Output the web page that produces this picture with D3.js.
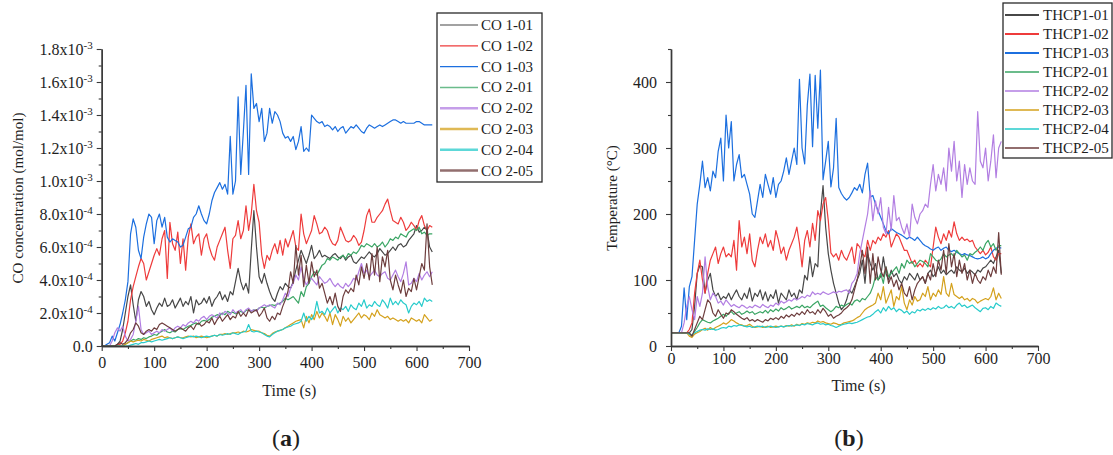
<!DOCTYPE html>
<html>
<head>
<meta charset="utf-8">
<script src="https://cdn.jsdelivr.net/npm/d3@7"></script>
<style>
  body { margin: 0; background: #fff; }
  svg { display: block; }
  text { font-family: "Liberation Serif", "Times New Roman", serif; fill: #1e1e1e; }
</style>
</head>
<body>
<svg id="fig" width="1113" height="455"></svg>
<script>
// sampling grid (s), every 5 s from 0 to 630
var time = d3.range(0, 631, 5);

// ---- (a) CO concentration, values in 1e-4 mol/mol ----
var coNames = ["CO 1-01", "CO 1-02", "CO 1-03", "CO 2-01", "CO 2-02", "CO 2-03", "CO 2-04", "CO 2-05"];
var co101 = [0,0,0,0,0,0,0.1,0.3,1.0,2.0,
  3.0,3.7,2.5,1.5,2.8,3.3,3.0,2.4,2.7,2.2,
  1.9,2.3,2.6,2.4,2.9,2.4,2.5,2.8,2.3,2.6,
  2.9,2.4,2.7,2.5,3.0,2.0,2.8,2.5,2.6,2.9,
  2.6,3.0,2.4,2.8,3.0,3.3,2.8,3.1,2.7,3.3,
  3.1,3.9,4.7,3.9,3.4,3.8,3.2,5.8,8.2,6.0,
  4.2,3.8,4.4,3.8,3.3,2.9,2.7,3.2,3.6,3.4,
  3.8,3.6,3.5,3.9,4.6,5.2,5.8,5.4,5.0,5.5,
  6.1,5.3,5.5,5.8,5.4,5.5,5.4,5.3,5.5,5.6,
  5.4,5.3,5.5,5.2,5.4,5.5,5.1,5.0,5.2,5.4,
  5.3,5.5,5.7,5.5,5.4,5.6,5.9,5.7,5.5,5.6,
  5.8,6.0,5.8,6.1,6.2,6.0,6.1,6.4,6.6,6.8,
  7.3,6.9,7.0,7.2,7.0,6.0,5.7];
var co102 = [0,0,0,0,0,0,0.05,0.1,0.3,0.8,
  1.5,2.8,3.6,4.2,4.8,5.3,5.0,4.0,4.5,5.0,
  5.5,5.9,5.5,6.5,7.0,4.1,7.5,6.2,5.8,6.9,
  5.0,6.5,4.6,6.6,7.4,6.2,6.6,6.8,5.5,6.5,
  6.8,6.0,5.5,5.2,6.0,6.4,6.8,7.2,5.8,4.7,
  6.5,6.7,7.6,6.5,7.0,8.5,7.0,8.0,9.8,8.2,
  7.5,5.5,4.7,5.5,5.2,5.8,6.2,5.6,6.4,5.5,
  6.5,6.0,6.5,7.0,6.0,5.8,8.0,6.8,6.2,6.6,
  7.0,7.9,7.4,6.8,6.9,7.2,7.0,6.5,6.2,6.1,
  6.4,7.2,6.8,6.4,6.3,6.4,6.7,6.5,6.1,6.3,
  7.0,7.9,8.3,7.5,7.5,7.8,8.0,8.2,8.6,8.9,
  8.2,7.6,7.5,7.4,7.8,7.5,7.0,7.2,7.5,7.3,
  7.0,7.6,7.9,7.3,7.0,7.3,7.2];
var co103 = [0,0,0.1,0.2,0.6,0.3,0.8,1.3,2.0,2.8,
  3.9,6.8,7.7,7.2,5.8,5.3,6.6,7.4,8.0,7.8,
  6.2,7.6,8.0,7.2,7.8,6.6,6.3,6.5,6.4,6.3,
  6.0,6.1,6.6,7.1,7.2,7.8,8.0,8.5,8.0,7.6,
  7.4,8.0,8.8,9.3,9.6,9.9,9.5,9.8,9.2,12.7,
  9.2,10.0,15.1,10.4,13.0,15.8,10.4,16.5,14.4,14.7,
  13.6,14.4,12.4,12.9,14.4,13.5,14.2,14.0,13.6,12.9,
  12.6,12.7,12.4,12.7,11.9,12.4,13.3,11.8,12.0,11.8,
  14.0,13.8,13.6,13.5,13.6,13.3,13.4,13.3,13.1,13.3,
  13.0,13.2,13.3,12.9,13.1,13.3,13.2,13.4,13.2,13.0,
  12.9,13.2,13.4,13.3,13.2,13.3,13.4,13.3,13.4,13.5,
  13.6,13.7,13.7,13.6,13.5,13.6,13.5,13.5,13.5,13.5,
  13.6,13.6,13.5,13.4,13.4,13.4,13.4];
var co201 = [0,0,0,0,0,0,0,0,0,0.1,
  0.2,0.3,0.4,0.35,0.45,0.4,0.5,0.45,0.55,0.6,
  0.7,0.65,0.8,0.9,1.0,0.85,0.8,0.9,0.85,1.0,
  1.05,1.0,1.1,1.2,1.25,1.35,1.4,1.3,1.5,1.55,
  1.5,1.6,1.75,1.8,1.9,1.85,2.0,1.9,2.1,2.0,
  2.05,1.95,2.0,2.1,2.0,2.15,2.2,2.1,2.2,2.15,
  2.3,2.35,2.3,2.4,2.45,2.5,2.45,2.55,2.6,2.7,
  2.9,2.8,2.9,3.0,2.8,2.6,3.3,3.0,3.6,3.8,
  4.2,4.5,4.3,4.6,4.9,5.0,5.3,5.2,5.4,5.3,
  5.2,5.4,5.5,5.3,5.6,5.5,5.7,5.6,5.8,6.1,
  6.0,6.2,6.1,6.0,6.2,6.0,6.1,6.3,6.0,6.2,
  6.5,6.4,6.6,6.5,6.8,6.7,6.6,6.9,7.0,7.1,
  7.0,7.2,6.8,6.9,6.7,6.8,6.8];
var co202 = [0,0,0,0,0.3,0.8,1.1,0.9,1.2,0.6,
  0.3,0.4,0.7,1.5,2.4,1.0,0.7,0.8,0.9,0.7,
  0.8,0.9,0.8,1.0,0.9,1.0,1.1,0.9,1.1,1.2,
  1.1,1.3,1.2,1.4,1.5,1.4,1.6,1.5,1.7,1.8,
  1.6,1.8,1.9,1.8,1.7,2.0,1.9,2.1,2.0,1.9,
  2.2,2.0,2.1,2.2,2.0,2.2,2.3,2.1,2.2,2.1,
  2.3,2.4,2.5,2.4,2.5,2.4,2.3,2.6,2.5,2.8,
  3.2,3.0,3.5,3.8,4.3,4.0,4.8,4.1,3.7,4.0,
  4.1,3.9,3.7,4.2,4.0,3.8,3.9,4.1,3.8,3.6,
  3.8,3.6,3.5,3.8,3.6,3.8,4.1,4.0,4.5,5.0,
  4.4,4.6,4.2,4.4,4.6,4.3,4.2,4.4,4.5,4.1,
  4.0,4.3,4.6,4.2,3.9,4.4,5.1,3.7,3.8,4.1,
  3.9,4.4,4.0,4.3,4.5,4.2,4.5];
var co203 = [0,0,0,0,0,0,0,0,0,0.1,
  0.2,0.3,0.25,0.3,0.35,0.3,0.4,0.35,0.3,0.4,
  0.45,0.5,0.55,0.6,0.5,0.55,0.5,0.45,0.5,0.55,
  0.5,0.5,0.55,0.6,0.55,0.6,0.5,0.55,0.6,0.55,
  0.5,0.55,0.6,0.65,0.6,0.7,0.7,0.75,0.7,0.75,
  0.8,0.8,0.85,0.8,0.9,0.85,0.9,1.0,0.95,0.9,
  0.9,0.8,0.75,0.65,0.6,0.75,0.85,0.9,0.95,1.0,
  1.1,1.2,1.3,1.4,1.5,1.55,1.6,1.1,1.8,1.4,
  1.9,1.6,2.1,1.7,2.0,1.8,1.5,2.0,1.3,1.9,
  1.6,1.2,1.8,1.5,1.7,1.4,1.6,1.8,2.0,1.7,
  1.9,1.8,1.6,2.0,1.8,2.2,1.9,1.8,1.7,1.8,
  1.6,1.7,1.6,1.5,1.6,1.5,1.6,1.4,1.7,1.6,
  1.5,1.6,1.4,1.9,1.7,1.5,1.6];
var co204 = [0,0,0,0,0,0,0,0,0,0,
  0,0.05,0.1,0.15,0.1,0.2,0.2,0.25,0.3,0.25,
  0.3,0.35,0.4,0.35,0.4,0.45,0.5,0.45,0.5,0.55,
  0.5,0.45,0.5,0.55,0.6,0.55,0.6,0.55,0.5,0.55,
  0.6,0.55,0.6,0.65,0.6,0.7,0.65,0.7,0.75,0.7,
  0.8,0.75,0.7,0.8,0.85,0.9,1.3,0.9,0.85,0.9,
  0.85,0.8,0.7,0.6,0.55,0.7,0.8,0.9,0.95,1.0,
  1.1,1.15,1.2,1.3,1.35,1.4,1.5,2.0,1.5,1.8,
  1.6,1.9,2.7,2.0,2.1,1.9,2.3,2.0,2.2,2.4,
  2.0,2.3,2.2,2.4,2.1,2.5,2.3,2.2,2.6,2.4,
  2.8,2.3,2.5,2.4,2.7,2.5,2.4,2.8,2.6,2.3,
  2.9,2.5,2.7,2.5,2.8,2.6,2.5,2.0,2.4,2.6,
  2.5,2.7,2.4,2.9,2.7,2.8,2.7];
var co205 = [0,0,0,0,0,0,0.1,0.2,0.1,0.2,
  0.4,0.8,1.0,1.4,1.2,0.8,0.7,0.9,1.0,0.9,
  1.1,1.0,1.3,1.4,1.3,1.2,1.1,1.0,0.9,1.0,
  1.1,1.0,0.9,1.1,1.2,1.0,1.3,1.4,1.2,1.3,
  1.5,1.4,1.7,1.3,1.6,1.8,1.5,1.7,1.9,1.6,
  1.8,1.7,2.1,1.8,2.0,1.8,2.2,2.0,2.1,2.2,
  1.8,2.0,2.3,1.7,1.5,1.8,1.6,2.0,1.9,2.4,
  2.8,3.3,4.5,3.8,6.1,4.3,5.5,3.6,4.9,3.8,
  5.1,4.2,4.6,3.5,3.8,3.2,2.6,3.0,2.5,3.2,
  2.4,2.1,3.0,3.4,3.2,3.5,3.3,4.3,3.7,4.8,
  4.1,5.0,4.0,5.6,4.3,6.0,3.9,5.4,4.8,5.8,
  4.0,3.4,4.3,3.7,3.2,4.0,3.0,3.5,3.3,4.1,
  3.4,4.2,5.0,4.6,7.4,4.8,3.7];

// ---- (b) Temperature, °C ----
var thNames = ["THCP1-01", "THCP1-02", "THCP1-03", "THCP2-01", "THCP2-02", "THCP2-03", "THCP2-04", "THCP2-05"];
var th101 = [20,20,20,20,20,20,20,20,25,60,
  110,122,120,80,100,110,85,75,80,70,
  75,72,80,70,78,85,75,70,80,72,
  88,68,80,75,85,70,82,68,78,72,
  85,65,80,75,70,85,75,80,70,85,
  80,107,100,135,105,125,120,200,243,180,
  140,115,95,80,65,55,60,70,85,80,
  90,100,110,130,95,140,125,115,125,100,
  105,135,110,100,115,105,110,100,95,105,
  100,110,105,100,110,100,105,95,110,115,
  105,110,120,110,115,108,112,115,110,120,
  115,112,118,110,115,112,108,115,112,118,
  120,125,130,125,135,145,110];
var th102 = [20,20,20,20,20,20,20,25,35,80,
  110,130,100,80,110,130,140,150,125,140,
  150,135,140,135,160,115,190,150,165,140,
  170,130,120,145,165,155,170,150,160,145,
  175,160,140,150,130,145,155,165,180,155,
  120,160,175,150,186,160,205,190,215,225,
  190,141,135,140,130,145,135,130,140,150,
  125,155,150,140,135,160,145,160,155,165,
  160,170,165,175,150,160,170,165,155,145,
  145,135,125,130,120,125,120,130,125,120,
  150,180,165,155,170,160,175,165,188,170,
  160,165,160,162,158,160,150,145,140,145,
  138,142,150,135,130,140,140];
var th103 = [20,20,20,20,30,88,40,90,105,160,
  215,245,280,240,255,235,265,255,295,315,
  250,350,300,340,250,275,290,255,260,245,
  230,200,195,220,245,225,260,245,230,255,
  225,245,250,265,285,260,280,300,275,404,
  300,276,365,412,302,410,330,418,252,280,
  310,241,270,345,240,231,225,221,225,232,
  240,236,245,232,260,277,226,228,215,205,
  195,185,175,170,178,175,172,170,168,165,
  162,165,163,160,165,160,155,152,150,147,
  145,148,150,145,148,150,145,143,145,142,
  140,138,140,138,137,135,133,132,133,135,
  132,134,140,145,148,150,148];
var th201 = [20,20,20,20,20,20,20,18,15,22,
  28,35,40,38,36,35,38,40,42,45,
  48,45,50,52,48,50,52,48,50,53,
  50,52,48,50,52,50,54,50,55,52,
  56,53,58,55,57,60,56,58,60,58,
  62,58,60,58,62,65,68,60,62,58,
  55,52,55,60,58,62,60,63,65,62,
  68,70,67,72,70,75,80,90,105,100,
  110,95,120,105,110,115,120,110,125,118,
  130,125,128,120,125,130,128,125,120,140,
  135,130,128,132,140,135,138,140,135,145,
  140,135,138,130,140,138,142,145,150,145,
  155,160,150,155,145,152,152];
var th202 = [20,20,20,20,20,35,60,75,55,40,
  75,60,80,135,90,70,80,75,65,68,
  62,70,65,60,63,60,58,62,60,57,
  60,58,62,60,58,63,60,58,62,60,
  65,62,68,65,67,70,68,72,70,72,
  75,73,77,75,82,78,80,78,82,80,
  78,80,82,80,83,82,84,85,80,95,
  100,110,140,160,180,200,235,190,220,200,
  225,180,170,210,175,228,190,195,180,170,
  185,165,215,195,185,200,205,215,210,245,
  275,235,260,245,270,235,300,265,310,250,
  280,225,275,245,270,250,245,355,280,270,
  300,250,280,320,255,300,310];
var th203 = [20,20,20,20,20,20,20,15,13,18,
  20,22,25,27,24,28,25,28,30,32,
  35,33,36,40,38,35,33,32,30,31,
  33,30,28,29,30,28,29,30,28,29,
  30,29,30,29,31,30,32,30,33,31,
  34,33,35,34,36,35,38,36,37,35,
  34,33,35,34,32,33,35,36,37,38,
  40,43,45,50,55,58,60,62,65,80,
  70,90,65,75,85,60,75,70,90,65,
  55,70,62,75,68,70,80,75,90,70,
  80,75,85,78,105,80,75,95,78,75,
  72,75,70,72,68,72,70,65,68,70,
  72,70,75,88,70,80,72];
var th204 = [20,20,20,20,20,20,20,18,17,20,
  22,24,25,24,26,25,26,24,25,27,
  28,27,30,29,31,30,32,31,30,29,
  30,28,29,30,29,30,28,29,30,29,
  28,29,30,29,30,31,30,31,32,31,
  33,32,34,33,32,34,35,33,34,32,
  33,31,30,28,30,32,33,34,35,34,
  35,36,38,40,42,44,45,48,52,55,
  50,58,53,60,55,58,52,56,54,50,
  53,48,52,50,55,53,56,54,57,55,
  58,56,60,57,58,62,58,60,57,62,
  65,60,62,58,60,62,58,55,52,57,
  58,55,60,57,65,62,60];
var th205 = [20,20,20,20,20,20,20,20,15,25,
  35,45,40,55,70,65,50,45,55,48,
  42,50,48,55,52,48,45,42,40,43,
  38,40,37,40,38,36,40,38,42,40,
  43,40,45,42,47,44,48,45,50,47,
  52,48,55,50,52,48,55,50,57,52,
  45,48,42,45,47,50,55,58,62,70,
  85,100,120,145,110,150,95,140,100,135,
  115,105,120,95,105,90,100,85,95,80,
  75,90,70,85,95,100,105,95,110,100,
  125,105,130,115,145,110,155,120,140,105,
  130,110,125,100,115,95,110,100,95,105,
  100,115,105,120,110,172,108];

var lineColors = ["#474747", "#ee3b3b", "#1c6fdf", "#3aa564", "#b27ee2", "#d4a11c", "#27cbcb", "#6d3d3d"];
var xMajor = [0, 100, 200, 300, 400, 500, 600, 700];
var xMinor = [50, 150, 250, 350, 450, 550, 650];
var coMajor = [0, 2, 4, 6, 8, 10, 12, 14, 16, 18];
var coMinor = [1, 3, 5, 7, 9, 11, 13, 15, 17];
var thMajor = [0, 100, 200, 300, 400];
var thMinor = [50, 150, 250, 350, 450];

var svg = d3.select("#fig");
var AXIS = "#3a3a3a";

function styleAxis(g) {
    g.select(".domain").attr("stroke", AXIS).attr("stroke-width", 1.4);
    g.selectAll(".tick line").attr("stroke", AXIS).attr("stroke-width", 1.1);
    g.attr("font-family", "Liberation Serif, serif").attr("font-size", 16);
    g.selectAll("text").attr("fill", "#1e1e1e");
}

function drawPanel(cfg) {
    var x = d3.scaleLinear().domain([0, 700]).range([cfg.left, cfg.right]);
    var y = d3.scaleLinear().domain([0, cfg.yMax]).range([346, 49]);
    var g = svg.append("g");

    // lines
    var line = d3.line()
        .x(function(d, i) { return x(time[i]); })
        .y(function(d) { return y(d); });
    g.selectAll("path.series")
        .data(cfg.series)
        .enter()
        .append("path")
        .attr("class", "series")
        .attr("d", function(d) { return line(d); })
        .attr("fill", "none")
        .attr("stroke", function(d, i) { return lineColors[i]; })
        .attr("stroke-width", 1.2)
        .attr("stroke-linejoin", "round");

    // x axis
    g.append("g").attr("transform", "translate(0,346)")
        .call(d3.axisBottom(x).tickValues(xMinor).tickSize(3).tickFormat("").tickSizeOuter(0))
        .call(styleAxis);
    g.append("g").attr("transform", "translate(0,346)")
        .call(d3.axisBottom(x).tickValues(xMajor).tickSize(5).tickPadding(cfg.xPad).tickSizeOuter(0))
        .call(styleAxis);

    // y axis
    g.append("g").attr("transform", "translate(" + cfg.left + ",0)")
        .call(d3.axisLeft(y).tickValues(cfg.yMinor).tickSize(3).tickFormat("").tickSizeOuter(0))
        .call(styleAxis);
    var ya = g.append("g").attr("transform", "translate(" + cfg.left + ",0)")
        .call(d3.axisLeft(y).tickValues(cfg.yMajor).tickSize(5).tickPadding(cfg.yPad).tickSizeOuter(0))
        .call(styleAxis);
    if (cfg.sciLabels) {
        ya.selectAll(".tick text").each(function(d) {
            var t = d3.select(this);
            t.text(null);
            if (d === 0) { t.text("0.0"); return; }
            var val = d * 1e-4;
            var e = Math.floor(Math.log10(val) + 1e-9);
            var m = val / Math.pow(10, e);
            t.append("tspan").text(m.toFixed(1) + "x10");
            t.append("tspan").attr("dy", "-0.5em").attr("font-size", 11).text(e);
        });
    }

    // titles
    g.append("text")
        .attr("x", (cfg.left + cfg.right) / 2 + 4)
        .attr("y", cfg.xTitleY)
        .attr("text-anchor", "middle")
        .attr("font-size", 16)
        .text("Time (s)");
    g.append("text")
        .attr("transform", "translate(" + cfg.yTitleX + ",198) rotate(-90)")
        .attr("text-anchor", "middle")
        .attr("dominant-baseline", "central")
        .attr("font-size", 15)
        .text(cfg.yTitle);
    var lab = g.append("text")
        .attr("x", cfg.tagX)
        .attr("y", 446)
        .attr("text-anchor", "middle")
        .attr("font-size", 24);
    lab.append("tspan").text("(");
    lab.append("tspan").attr("font-weight", "bold").text(cfg.tag);
    lab.append("tspan").text(")");

    // legend
    var L = cfg.legend;
    var lg = g.append("g");
    lg.append("rect")
        .attr("x", L.x).attr("y", L.y).attr("width", L.w).attr("height", L.h)
        .attr("fill", "#fff").attr("stroke", "#2a2a2a").attr("stroke-width", 1.3);
    var rows = lg.selectAll("g.row")
        .data(cfg.names)
        .enter()
        .append("g")
        .attr("class", "row")
        .attr("transform", function(d, i) { return "translate(0," + (L.y0 + i * L.dy) + ")"; });
    rows.append("line")
        .attr("x1", L.lx1).attr("x2", L.lx2)
        .attr("stroke", function(d, i) { return lineColors[i]; })
        .attr("stroke-opacity", function(d, i) { return i < 3 ? 1 : 0.75; })
        .attr("stroke-width", function(d, i) { return L.lw[i]; });
    rows.append("text")
        .attr("x", L.tx)
        .attr("dominant-baseline", "central")
        .attr("font-size", 15)
        .text(function(d) { return d; });
}

drawPanel({
    left: 101.7, right: 469, yMax: 18,
    series: [co101, co102, co103, co201, co202, co203, co204, co205],
    names: coNames,
    yMajor: coMajor, yMinor: coMinor, sciLabels: true,
    xPad: 6, yPad: 4,
    xTitleY: 396, yTitleX: 18, yTitle: "CO concentration (mol/mol)",
    tag: "a", tagX: 286,
    legend: { x: 437, y: 13, w: 105, h: 169, y0: 25, dy: 20.8, lx1: 440, lx2: 478, tx: 481,
              lw: [1.2, 1.2, 1.2, 1.5, 2.5, 2.5, 2.5, 2.5] }
});

drawPanel({
    left: 671, right: 1038, yMax: 450,
    series: [th101, th102, th103, th201, th202, th203, th204, th205],
    names: thNames,
    yMajor: thMajor, yMinor: thMinor, sciLabels: false,
    xPad: 2, yPad: 9,
    xTitleY: 391, yTitleX: 612, yTitle: "Temperature (\u00B0C)",
    tag: "b", tagX: 849,
    legend: { x: 1003, y: 3, w: 109, h: 155, y0: 15, dy: 19, lx1: 1005, lx2: 1039, tx: 1043,
              lw: [1.8, 1.8, 1.8, 1.8, 2.2, 2.2, 2.2, 2.2] }
});
</script>
</body>
</html>
